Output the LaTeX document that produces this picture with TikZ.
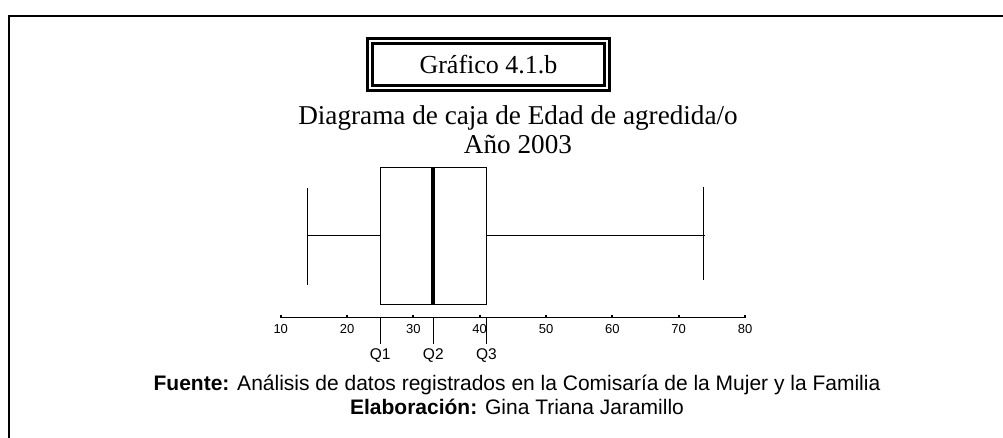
\documentclass[tikz,border=0pt]{standalone}
\usepackage{fontspec}
\usepackage{tikz}
\usetikzlibrary{positioning}
\usetikzlibrary{calc}
\setmainfont{Liberation Serif}
\setsansfont{Liberation Sans}
\tikzstyle{marco} = [draw, line width=2pt]
\tikzstyle{titbox} = [draw, line width=2.3pt, double=white, double distance=2.7pt, minimum width=237pt, minimum height=47pt, inner sep=0pt, font=\fontsize{26}{30}\selectfont]
\tikzstyle{tittext} = [anchor=base, inner sep=0pt, font=\fontsize{27.2}{30}\selectfont]
\tikzstyle{caja} = [draw, line width=1.3pt]
\tikzstyle{mediana} = [draw, line width=4.3pt]
\tikzstyle{bigote} = [draw, line width=1.3pt]
\tikzstyle{tic} = [draw, line width=2pt]
\tikzstyle{ticklab} = [anchor=north, inner sep=0pt, font=\sffamily\fontsize{13}{15}\selectfont]
\tikzstyle{qlab} = [anchor=north, inner sep=4pt, font=\sffamily\fontsize{15.5}{18}\selectfont]
\tikzstyle{pie} = [anchor=base, inner sep=0pt, font=\sffamily\fontsize{21}{24}\selectfont]

\begin{document}
\begin{tikzpicture}[x=1pt,y=-1pt]
    \useasboundingbox (0,0) rectangle (1003,438);
    \draw [marco] (9,438) -- (9,15.7) -- (1003,15.7); % frame

    \node [titbox] (titulo) at (488.5,64.5) {Gráfico 4.1.b};
    \node [tittext] (subtit) at (518,124.3) {Diagrama de caja de Edad de agredida/o};
    \node [tittext] (anio) at ($(subtit.base)+(0,29)$) {Año 2003};

    \begin{scope}[x=6.633pt, xshift=214.4pt]
    \coordinate (wmin) at (14,235.3);
    \coordinate (wmax) at (73.7,235.3);
    \coordinate (cq1) at (25,317.3);
    \coordinate (cq2) at (33,317.3);
    \coordinate (cq3) at (41,317.3);

    \draw [caja] (25,167.3) rectangle (41,304.3);
    \draw [mediana] (33,167.3) -- (33,304.3);
    \draw [bigote] (wmin) -- (25,235.3);
    \draw [bigote] (41,235.3) -- ($(wmax)+(0.3,0)$);
    \draw [bigote] (14,188) -- (14,285);
    \draw [bigote] (73.7,187) -- (73.7,280);

    \draw [bigote] (10,317.3) -- (80,317.3); % axis
    \foreach \v in {10,20,...,80} {
        \draw [tic] (\v,314.5) -- (\v,318);
        \node [ticklab] (t\v) at (\v,324.5) {\v};
    }
    \foreach \q/\v in {1/25,2/33,3/41} {
        \node [qlab] (q\q) at (\v,344) {Q\q};
        \draw [bigote] (cq\q) -- (q\q.north);
    }
    \end{scope}

    \node [pie] (fuente) at (517,390) {\textbf{Fuente:} Análisis de datos registrados en la Comisaría de la Mujer y la Familia};
    \node [pie] (elab) at ($(fuente.base)+(0,24)$) {\textbf{Elaboración:} Gina Triana Jaramillo};
\end{tikzpicture}
\end{document}
